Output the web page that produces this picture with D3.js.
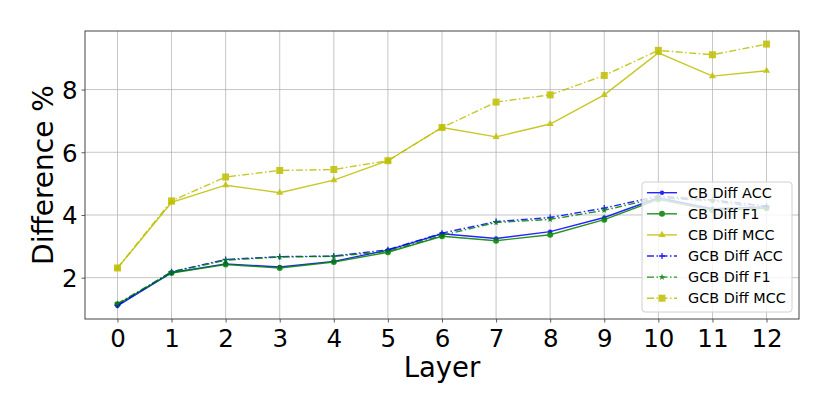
<!DOCTYPE html>
<html><head><meta charset="utf-8">
<script src="https://cdn.jsdelivr.net/npm/d3@7"></script>
<style>body{margin:0;background:#fff}svg{display:block;font-family:"DejaVu Sans",sans-serif}</style>
</head><body><svg id="c" width="830" height="415"></svg>
<script>
const layers = [0,1,2,3,4,5,6,7,8,9,10,11,12];
const cbAcc  = [1.10, 2.16, 2.44, 2.34, 2.52, 2.88, 3.40, 3.25, 3.47, 3.92, 4.55, 4.20, 4.26];
const cbF1   = [1.15, 2.15, 2.42, 2.31, 2.50, 2.81, 3.32, 3.18, 3.37, 3.85, 4.50, 4.15, 4.22];
const cbMcc  = [2.30, 4.40, 4.95, 4.71, 5.11, 5.73, 6.79, 6.49, 6.90, 7.83, 9.17, 8.43, 8.60];
const gcbAcc = [1.12, 2.19, 2.58, 2.67, 2.69, 2.89, 3.42, 3.79, 3.92, 4.22, 4.60, 4.48, 4.28];
const gcbF1  = [1.17, 2.18, 2.56, 2.66, 2.68, 2.84, 3.35, 3.76, 3.86, 4.15, 4.55, 4.45, 4.20];
const gcbMcc = [2.31, 4.45, 5.21, 5.42, 5.45, 5.73, 6.79, 7.60, 7.83, 8.45, 9.25, 9.11, 9.45];
const yTicks = [2,4,6,8];
const seriesNames = ["CB Diff ACC","CB Diff F1","CB Diff MCC","GCB Diff ACC","GCB Diff F1","GCB Diff MCC"];

const series = [
  {name:seriesNames[0], values:cbAcc,  color:"#0000ff", dash:null, marker:"dot"},
  {name:seriesNames[1], values:cbF1,   color:"#008000", dash:null, marker:"circle"},
  {name:seriesNames[2], values:cbMcc,  color:"#bfbf00", dash:null, marker:"triangle"},
  {name:seriesNames[3], values:gcbAcc, color:"#0000ff", dash:"7,2.5,1.5,2.5", marker:"plus"},
  {name:seriesNames[4], values:gcbF1,  color:"#008000", dash:"7,2.5,1.5,2.5", marker:"star"},
  {name:seriesNames[5], values:gcbMcc, color:"#bfbf00", dash:"7,2.5,1.5,2.5", marker:"square"}
];

const L=85, R=799, T=31, B=319;
const svg = d3.select("#c");
const x = d3.scaleLinear().domain([-0.6,12.6]).range([L,R]);
const allV = series.flatMap(s=>s.values);
const vmin=d3.min(allV), vmax=d3.max(allV), pad=(vmax-vmin)*0.05;
const y = d3.scaleLinear().domain([vmin-pad, vmax+pad]).range([B,T]);

// grid
const g = svg.append("g");
g.selectAll("line.vx").data(layers).enter().append("line")
  .attr("x1",d=>x(d)).attr("x2",d=>x(d)).attr("y1",T).attr("y2",B)
  .attr("stroke","#b0b0b0").attr("stroke-width",0.9).attr("opacity",0.8);
g.selectAll("line.hy").data(yTicks).enter().append("line")
  .attr("y1",d=>y(d)).attr("y2",d=>y(d)).attr("x1",L).attr("x2",R)
  .attr("stroke","#b0b0b0").attr("stroke-width",0.9).attr("opacity",0.8);

// axes
const xAxis = d3.axisBottom(x).tickValues(layers).tickFormat(d3.format("d")).tickSizeOuter(0).tickSize(3.5).tickPadding(7.5);
const yAxis = d3.axisLeft(y).tickValues(yTicks).tickFormat(d3.format("d")).tickSizeOuter(0).tickSize(3.5).tickPadding(4);
const gx = svg.append("g").attr("transform",`translate(0,${B})`).call(xAxis);
const gy = svg.append("g").attr("transform",`translate(${L},0)`).call(yAxis);
[gx,gy].forEach(a=>{
  a.select(".domain").remove();
  a.selectAll("text").attr("font-size",24.5).attr("fill","#000").attr("font-family","DejaVu Sans");
  a.selectAll("line").attr("stroke","#333").attr("stroke-width",0.8);
});
gy.selectAll("text").attr("dy","0.36em");

// lines
const line = d3.line().x((d,i)=>x(layers[i])).y(d=>y(d));
function drawMarker(sel, type, color, cx, cy){
  if(type==="dot") sel.append("circle").attr("cx",cx).attr("cy",cy).attr("r",2.2).attr("fill",color);
  else if(type==="circle") sel.append("circle").attr("cx",cx).attr("cy",cy).attr("r",3).attr("fill",color);
  else if(type==="triangle") sel.append("path").attr("d",d3.symbol(d3.symbolTriangle,22)()).attr("transform",`translate(${cx},${cy})`).attr("fill",color);
  else if(type==="square") sel.append("rect").attr("x",cx-3.5).attr("y",cy-3.5).attr("width",7).attr("height",7).attr("fill",color);
  else if(type==="plus") sel.append("path").attr("d",`M${cx-3},${cy}H${cx+3}M${cx},${cy-3}V${cy+3}`).attr("stroke",color).attr("stroke-width",1.3);
  else if(type==="star") sel.append("path").attr("d",d3.symbol(d3.symbolStar,14)()).attr("transform",`translate(${cx},${cy})`).attr("fill",color);
}
series.forEach(s=>{
  const gs = svg.append("g").attr("opacity",0.85);
  gs.append("path").datum(s.values).attr("d",line).attr("fill","none")
    .attr("stroke",s.color).attr("stroke-width",1.4).attr("stroke-dasharray",s.dash);
  s.values.forEach((v,i)=>drawMarker(gs,s.marker,s.color,x(layers[i]),y(v)));
});

// frame
svg.append("rect").attr("x",L).attr("y",T).attr("width",R-L).attr("height",B-T)
  .attr("fill","none").attr("stroke","#444").attr("stroke-width",1);

// labels
svg.append("text").attr("x",(L+R)/2).attr("y",377).attr("text-anchor","middle")
  .attr("font-size",27.5).text("Layer");
svg.append("text").attr("transform",`translate(53,${(T+B)/2}) rotate(-90)`).attr("text-anchor","middle")
  .attr("font-size",28).text("Difference %");

// legend
const lg = svg.append("g");
lg.append("rect").attr("x",642).attr("y",182).attr("width",150).attr("height",130).attr("rx",3)
  .attr("fill","#fff").attr("fill-opacity",0.8).attr("stroke","#d0d0d0").attr("stroke-width",1);
series.forEach((s,i)=>{
  const cy = 192.7 + i*21.1;
  const gi = lg.append("g").attr("opacity",0.85);
  gi.append("line").attr("x1",647).attr("x2",677).attr("y1",cy).attr("y2",cy)
    .attr("stroke",s.color).attr("stroke-width",1.4).attr("stroke-dasharray",s.dash);
  drawMarker(gi,s.marker,s.color,662,cy);
  lg.append("text").attr("x",688).attr("y",cy).attr("dy","0.36em").attr("font-size",14.4).text(s.name);
});
</script></body></html>
